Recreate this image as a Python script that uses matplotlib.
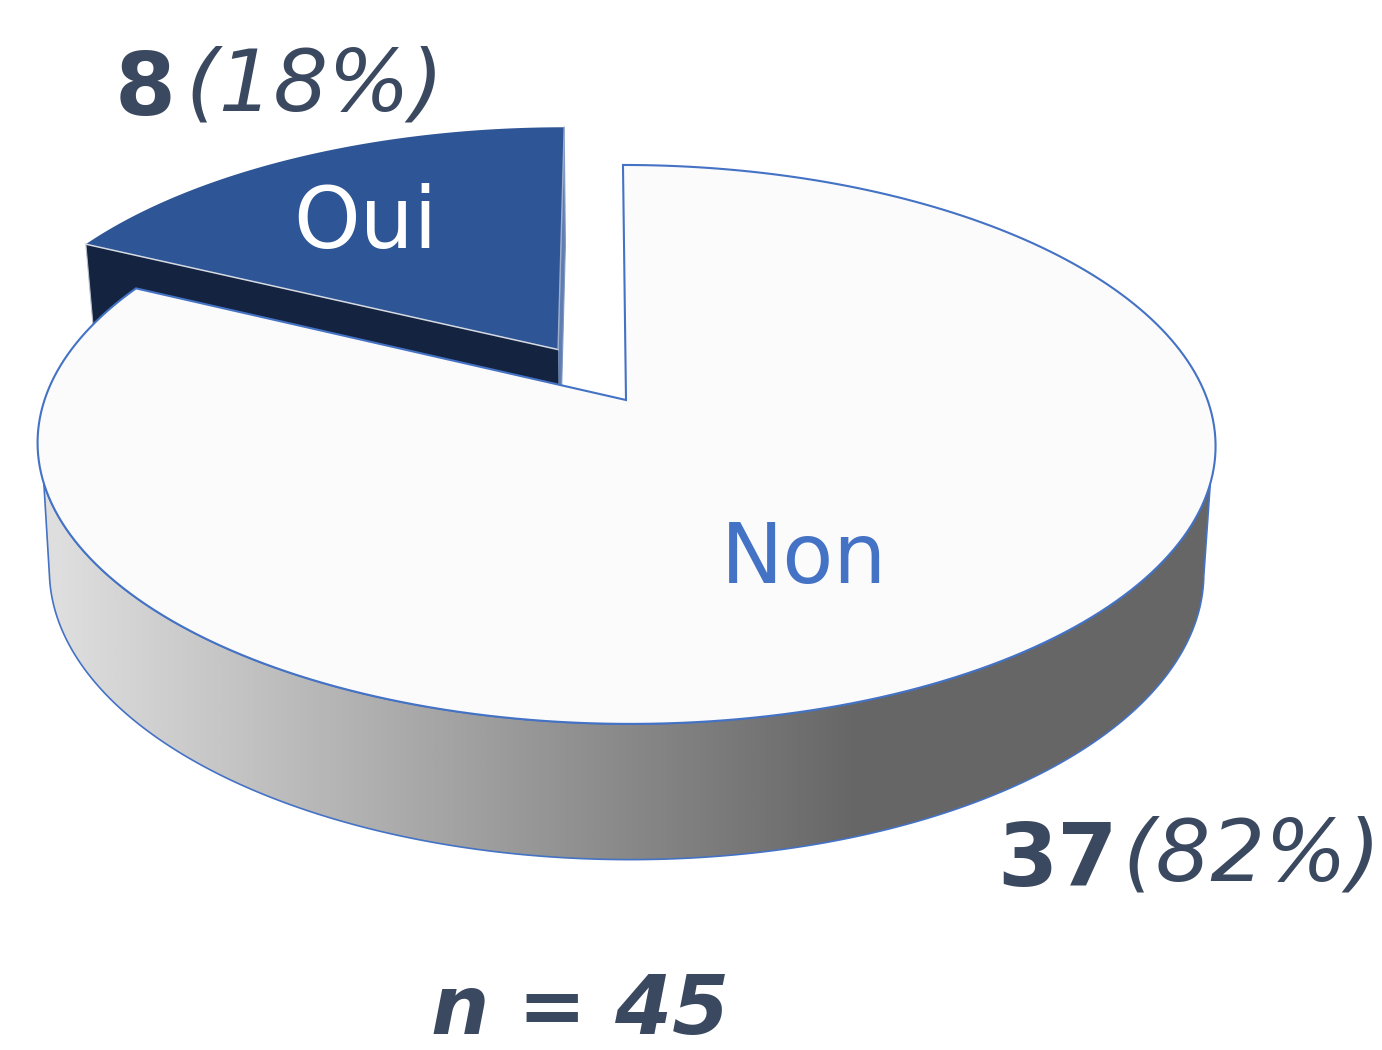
import numpy as np
import matplotlib
matplotlib.use("Agg")
import matplotlib.pyplot as plt
from matplotlib.patches import Polygon
from matplotlib.colors import LinearSegmentedColormap

categories = ["Oui", "Non"]
values = [8, 37]
percents = ["18%", "82%"]

W, H = 1382, 1050
TEXT = "#3b4960"
BLUE = "#4472c4"
DARK_BLUE = "#2e5596"
DARK_SIDE = "#132340"
TOP_NON = "#fbfbfc"

fig = plt.figure(figsize=(W / 100, H / 100), dpi=100, facecolor="white")
ax = fig.add_axes([0, 0, 1, 1])
ax.set_axis_off()

# perspective model of the pie disc
XC, YC, A, K, P, SKEW = 626.0, 400.0, 581.5, 272.4, 0.159, 3.5
SX, SY, YB = 0.98, 1.03, 526.0
EXPLODE = 0.225


def project(theta, radius=1.0, offset=(0.0, 0.0), bottom=False):
    """theta: degrees clockwise from 12 o'clock."""
    t = np.radians(theta)
    u = radius * np.sin(t) + offset[0]
    v = radius * np.cos(t) + offset[1]
    d = 1 + P * v
    sx, sy, y0 = (SX, SY, YB) if bottom else (1.0, 1.0, YC)
    x = XC + (sx * A * u - SKEW * v) / d
    y = y0 - sy * K * v / d
    return np.column_stack([x, y])


def arc(a0, a1, offset=(0.0, 0.0), bottom=False, n=240):
    return project(np.linspace(a0, a1, n), 1.0, offset, bottom)


total = sum(values)
oui_sweep = 360.0 * values[0] / total
start = 360.0 - oui_sweep   # Non runs from 0 to start, Oui from start to 360
mid = np.radians(start + oui_sweep / 2)
off = (EXPLODE * np.sin(mid), EXPLODE * np.cos(mid))

# --- Oui slice (behind) ---
apex_t = project(0.0, 0.0, off)
apex_b = project(0.0, 0.0, off, bottom=True)
end_t = project(360.0, 1.0, off)
end_b = project(360.0, 1.0, off, bottom=True)
cut_t = project(start, 1.0, off)
cut_b = project(start, 1.0, off, bottom=True)

ax.add_patch(Polygon(np.vstack([end_t, apex_t, apex_b, end_b]),
                     closed=True, facecolor="#5f7db0", edgecolor="#7f97c2",
                     lw=0.8, zorder=2))
ax.add_patch(Polygon(np.vstack([cut_t, apex_t, apex_b, cut_b]),
                     closed=True, facecolor=DARK_SIDE, edgecolor="none", zorder=3))
ax.plot(*np.vstack([cut_t, cut_b]).T, color="#b9bfc9", lw=0.8, zorder=3)
top_oui = np.vstack([apex_t, arc(start, 360.0, off)])
ax.add_patch(Polygon(top_oui, closed=True, facecolor=DARK_BLUE, edgecolor="none", zorder=4))
ax.plot(*np.vstack([cut_t, apex_t]).T, color="#d5dae3", lw=1.1, zorder=5)
ax.plot(*np.vstack([end_t, apex_t]).T, color="#9fb0cf", lw=1.0, zorder=5)

# --- Non slice side wall with gradient ---
side = np.vstack([arc(107, 253), arc(260, 100, bottom=True)])
cmap = LinearSegmentedColormap.from_list("side", [(0, "#dedede"), (1, "#666666")])
xs = np.linspace(0, 1, 512)[None, :]
im = ax.imshow(np.clip(xs, 0, 1), extent=(60, 860, H, 0), cmap=cmap, aspect="auto",
               vmin=0, vmax=1, zorder=6)
ext_l = ax.imshow(np.zeros((2, 2)), extent=(0, 60, H, 0), cmap=cmap, aspect="auto",
                  vmin=0, vmax=1, zorder=6)
ext_r = ax.imshow(np.ones((2, 2)), extent=(860, W, H, 0), cmap=cmap, aspect="auto",
                  vmin=0, vmax=1, zorder=6)
side_patch = Polygon(side, closed=True, facecolor="none", edgecolor=BLUE, lw=1.2, zorder=7)
ax.add_patch(side_patch)
for image in (im, ext_l, ext_r):
    image.set_clip_path(side_patch)

# --- Non slice top ---
top_non = np.vstack([project(0.0, 0.0), arc(0.0, start)])
ax.add_patch(Polygon(top_non, closed=True, facecolor=TOP_NON, edgecolor=BLUE,
                     lw=1.5, joinstyle="miter", zorder=8))

# --- labels ---
ax.text(293, 248, categories[0], color="white", fontsize=61, va="baseline", ha="left", zorder=10)
ax.text(721, 583, categories[1], color=BLUE, fontsize=60, va="baseline", ha="left", zorder=10)

ax.text(115, 115, str(values[0]), color=TEXT, fontsize=63, fontweight="bold",
        va="baseline", ha="left", zorder=10)
ax.text(185, 110, f"({percents[0]})", color=TEXT, fontsize=62, fontstyle="italic",
        va="baseline", ha="left", zorder=10)
ax.text(997, 886, str(values[1]), color=TEXT, fontsize=62.5, fontweight="bold",
        va="baseline", ha="left", zorder=10)
ax.text(1122, 881, f"({percents[1]})", color=TEXT, fontsize=62, fontstyle="italic",
        va="baseline", ha="left", zorder=10)
ax.text(580, 1034, f"n = {total}", color=TEXT, fontsize=59, fontweight="bold",
        fontstyle="italic", va="baseline", ha="center", zorder=10)

ax.set_xlim(0, W)
ax.set_ylim(H, 0)
fig.savefig("out.png", dpi=100, facecolor="white")
